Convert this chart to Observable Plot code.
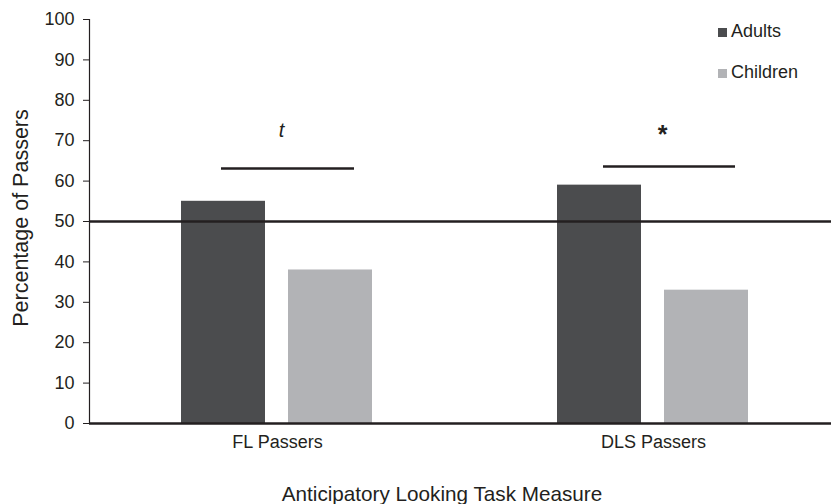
<!DOCTYPE html>
<html>
<head>
<meta charset="utf-8">
<script src="https://cdn.jsdelivr.net/npm/d3@7"></script>
<script src="https://cdn.jsdelivr.net/npm/@observablehq/plot@0.6"></script>
<style>
  body { margin: 0; background: #fff; }
  #wrap { position: relative; width: 831px; height: 504px; overflow: hidden;
          font-family: "Liberation Sans", Arial, sans-serif; color: #231f20; }
  #wrap svg { position: absolute; left: 0; top: 0; }
  .ttl { position: absolute; font-size: 20.7px; line-height: 21px; white-space: nowrap; }
  .leg { position: absolute; font-size: 18px; line-height: 18px; white-space: nowrap; }
  .sw { position: absolute; width: 9px; height: 9px; }
</style>
</head>
<body>
<div id="wrap"></div>
<script>
// ---- data ----
const measures = ["FL Passers", "DLS Passers"];
const groups = ["Adults", "Children"];
const adultsPct = [55, 59];
const childrenPct = [38, 33];
const sigLabels = ["t", "*"];
const sigLevel = [63.1, 63.6];
const yTicks = [0, 10, 20, 30, 40, 50, 60, 70, 80, 90, 100];
const chanceLevel = 50;
const groupColors = ["#4b4c4e", "#b2b3b6"];
const xTitle = "Anticipatory Looking Task Measure";
const yTitle = "Percentage of Passers";

const rows = measures.flatMap((m, i) => [
  {measure: m, group: groups[0], value: adultsPct[i]},
  {measure: m, group: groups[1], value: childrenPct[i]}
]);
const sig = measures.map((m, i) => ({measure: m, label: sigLabels[i], y: sigLevel[i]}));
const sigFL = sig.filter(d => d.measure === measures[0]);
const sigDLS = sig.filter(d => d.measure === measures[1]);

const ink = "#231f20";

const chart = Plot.plot({
  width: 831,
  height: 504,
  marginLeft: 88,
  marginRight: -10,
  marginTop: 19,
  marginBottom: 81,
  style: {fontFamily: '"Liberation Sans", Arial, sans-serif', fontSize: "18px", color: ink, background: "transparent"},
  fx: {domain: measures, padding: 0, label: null},
  x: {domain: groups, paddingInner: 0.213, paddingOuter: 0.86, axis: null},
  y: {domain: [0, 100], label: null},
  color: {domain: groups, range: groupColors},
  marks: [
    Plot.barY(rows, {fx: "measure", x: "group", y: "value", fill: "group"}),
    Plot.ruleY([chanceLevel], {stroke: ink, strokeWidth: 2.5}),
    Plot.ruleY([0], {stroke: ink, strokeWidth: 2.5}),
    Plot.frame({anchor: "left", facetAnchor: "left", stroke: ink, strokeWidth: 1.2}),
    Plot.axisY({ticks: yTicks, tickSize: 6, tickPadding: 9, label: null, fontSize: 18, stroke: ink}),
    Plot.axisFx({anchor: "bottom", tickSize: 0, tickPadding: 12, label: null, fontSize: 18}),
    Plot.ruleY(sigFL, {fx: "measure", y: "y", x1: () => groups[0], x2: () => groups[1],
      insetLeft: 40, insetRight: 18, stroke: ink, strokeWidth: 2.5}),
    Plot.ruleY(sigDLS, {fx: "measure", y: "y", x1: () => groups[0], x2: () => groups[1],
      insetLeft: 46, insetRight: 13, stroke: ink, strokeWidth: 2.5}),
    Plot.text(sigFL, {fx: "measure", y: "y", text: "label", dx: 4, dy: -38,
      fontStyle: "italic", fontSize: 20, fill: ink}),
    Plot.text(sigDLS, {fx: "measure", y: "y", text: "label", dx: 9, dy: -32,
      fontSize: 25, fontWeight: "bold", fill: ink})
  ]
});

const wrap = document.getElementById("wrap");
wrap.appendChild(chart);

// axis titles
const xt = document.createElement("div");
xt.className = "ttl";
xt.textContent = xTitle;
xt.style.left = "442px";
xt.style.top = "483px";
xt.style.transform = "translateX(-50%)";
wrap.appendChild(xt);

const yt = document.createElement("div");
yt.className = "ttl";
yt.textContent = yTitle;
yt.style.left = "21px";
yt.style.top = "218px";
yt.style.fontSize = "21.5px";
yt.style.transform = "translate(-50%, -50%) rotate(-90deg)";
wrap.appendChild(yt);

// legend
groups.forEach((g, i) => {
  const sw = document.createElement("div");
  sw.className = "sw";
  sw.style.left = "718px";
  sw.style.top = (28 + i * 41) + "px";
  sw.style.background = groupColors[i];
  wrap.appendChild(sw);
  const t = document.createElement("div");
  t.className = "leg";
  t.textContent = g;
  t.style.left = "731px";
  t.style.top = (22 + i * 41) + "px";
  wrap.appendChild(t);
});
</script>
</body>
</html>
